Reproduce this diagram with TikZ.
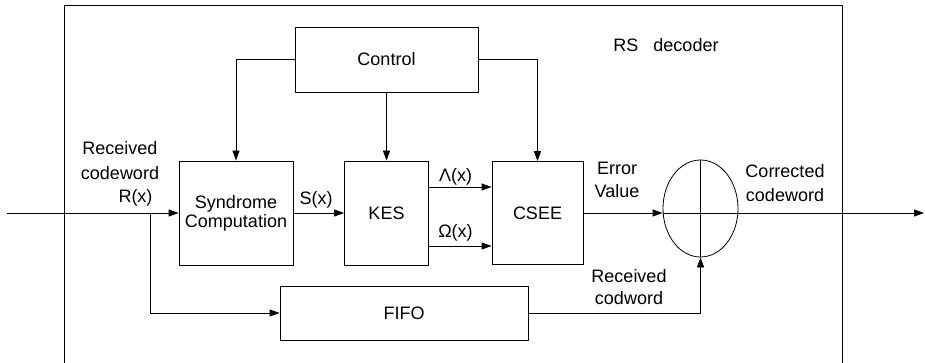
\documentclass[tikz,border=0pt]{standalone}
\usepackage{fontspec}
\setmainfont{Liberation Sans}
\usetikzlibrary{arrows.meta,shapes.geometric,calc}
\begin{document}
\begin{tikzpicture}[x=1pt,y=-1pt,line width=0.8pt,
  blk/.style={draw,inner sep=0pt,align=center,font=\fontsize{18}{19}\selectfont},
  arr/.style={-{Triangle[length=10pt,width=7pt]}},
  lbl/.style={inner sep=0pt,align=center,font=\fontsize{18}{24}\selectfont}]
\useasboundingbox (0,0) rectangle (925,363);
% outer frame
\draw (64,363) -- (64,5) -- (842,5) -- (842,363);
% blocks
\node[blk,minimum width=183pt,minimum height=65pt] (ctrl) at (386.5,59.5) {Control};
\node[blk,minimum width=114pt,minimum height=104pt] (syn) at (236,213) {Syndrome\\Computation};
\node[blk,minimum width=84pt,minimum height=104pt] (kes) at (386.5,213) {KES};
\node[blk,minimum width=91pt,minimum height=103pt] (csee) at (537.5,213) {CSEE};
\node[blk,minimum width=248pt,minimum height=54pt] (fifo) at (404,313) {FIFO};
\node[draw,ellipse,inner sep=0pt,minimum width=75pt,minimum height=97pt] (sum) at (700.5,208.5) {};
% coordinates
\coordinate (in) at (7,213);
\coordinate (br) at (150,213);
\coordinate (out) at (924,213);
\coordinate (sumw) at (csee.east -| sum.west);
% connectors
\draw[arr] (in) -- (syn.west);
\draw[arr] (br) |- (fifo.west);
\draw[arr] (syn.east) -- (kes.west);
\draw[arr] (ctrl.west) -| (syn.north);
\draw[arr] (ctrl.south) -- (kes.north);
\draw[arr] (ctrl.east) -| (csee.north);
\draw[arr] (kes.east |- 0,187) -- (csee.west |- 0,187);
\draw[arr] (kes.east |- 0,246) -- (csee.west |- 0,246);
\draw[arr] (csee.east) -- (sumw);
\draw[arr] (sumw) -- (out);
\draw (sum.north) -- (sum.south);
\draw[arr] (fifo.east) -| (sum.south);
% labels
\node[lbl,font=\fontsize{18}{25}\selectfont] (rcv) at (120,161) {Received\\codeword};
\node[lbl,anchor=base] (rx) at (135.5,203) {R(x)};
\node[lbl,anchor=base] (sx) at (316,205) {S(x)};
\node[lbl,anchor=base] (lx) at (455.5,182) {Λ(x)};
\node[lbl,anchor=base] (ox) at (455.5,237) {Ω(x)};
\node[lbl,font=\fontsize{18}{23}\selectfont] (ev) at (617,180) {Error\\Value};
\node[lbl,font=\fontsize{18}{24}\selectfont] (cc) at (785,183.5) {Corrected\\codeword};
\node[lbl,font=\fontsize{18}{22}\selectfont] (rc) at (629,287.5) {Received\\codword};
\node[lbl,anchor=base] (rs) at (666,52) {RS~~~decoder};
\end{tikzpicture}
\end{document}
